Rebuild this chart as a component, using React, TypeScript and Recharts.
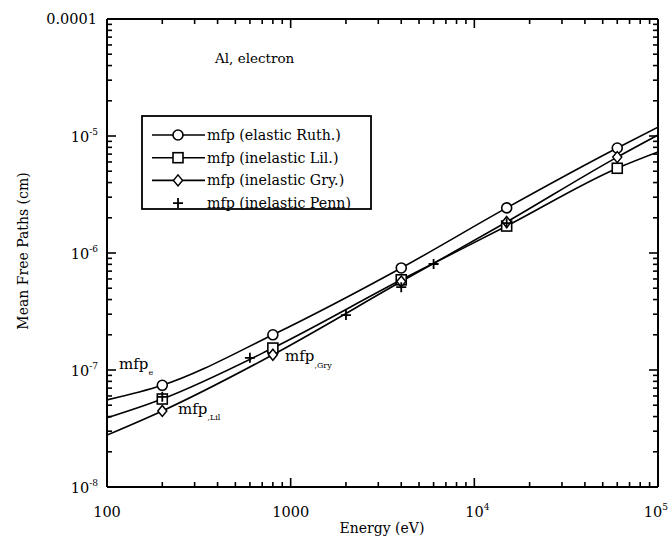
import React from 'react';
import { LineChart, Line, XAxis, YAxis } from 'recharts';

// energies (eV) and mean free paths (cm)
const lineEnergies = [100, 200, 800, 4000, 15000, 60000, 100000];
const elasticRuth = [5.55e-8, 7.4e-8, 2.0e-7, 7.45e-7, 2.43e-6, 7.9e-6, 1.19e-5];
const inelasticLil = [3.9e-8, 5.65e-8, 1.54e-7, 5.9e-7, 1.7e-6, 5.3e-6, 7.3e-6];
const inelasticGry = [2.78e-8, 4.47e-8, 1.35e-7, 5.7e-7, 1.84e-6, 6.6e-6, 1.02e-5];
const markerEnergies = [200, 800, 4000, 15000, 60000];

const pennEnergies = [200, 600, 2000, 4000, 6000, 15000];
const inelasticPenn = [5.9e-8, 1.27e-7, 2.95e-7, 5.1e-7, 8.05e-7, 1.8e-6];

const xTicks = [
  100, 200, 300, 400, 500, 600, 700, 800, 900,
  1000, 2000, 3000, 4000, 5000, 6000, 7000, 8000, 9000,
  10000, 20000, 30000, 40000, 50000, 60000, 70000, 80000, 90000, 100000,
];
const yTicks = [
  1e-8, 2e-8, 3e-8, 4e-8, 5e-8, 6e-8, 7e-8, 8e-8, 9e-8,
  1e-7, 2e-7, 3e-7, 4e-7, 5e-7, 6e-7, 7e-7, 8e-7, 9e-7,
  1e-6, 2e-6, 3e-6, 4e-6, 5e-6, 6e-6, 7e-6, 8e-6, 9e-6,
  1e-5, 2e-5, 3e-5, 4e-5, 5e-5, 6e-5, 7e-5, 8e-5, 9e-5, 1e-4,
];

const seriesNames = [
  'mfp (elastic Ruth.)',
  'mfp (inelastic Lil.)',
  'mfp (inelastic Gry.)',
  'mfp (inelastic Penn)',
];

const toRows = (xs: number[], ys: number[]) => xs.map((e, i) => ({ e, v: ys[i] }));
const ruthData = toRows(lineEnergies, elasticRuth);
const lilData = toRows(lineEnergies, inelasticLil);
const gryData = toRows(lineEnergies, inelasticGry);
const pennData = toRows(pennEnergies, inelasticPenn);

const W = 670;
const H = 543;
const FONT = '"DejaVu Serif", "Liberation Serif", serif';

const isMajor = (v: number) => Math.abs(Math.log10(v) - Math.round(Math.log10(v))) < 1e-6;

const Circle = ({ cx, cy }: { cx: number; cy: number }) => (
  <circle cx={cx} cy={cy} r={5} fill="#fff" stroke="#000" strokeWidth={1.6} />
);
const Square = ({ cx, cy }: { cx: number; cy: number }) => (
  <rect x={cx - 5} y={cy - 5} width={10} height={10} fill="#fff" stroke="#000" strokeWidth={1.6} />
);
const Diamond = ({ cx, cy }: { cx: number; cy: number }) => (
  <polygon
    points={`${cx},${cy - 5.5} ${cx + 4.5},${cy} ${cx},${cy + 5.5} ${cx - 4.5},${cy}`}
    fill="#fff"
    stroke="#000"
    strokeWidth={1.5}
  />
);
const Plus = ({ cx, cy }: { cx: number; cy: number }) => (
  <path d={`M${cx - 5},${cy}H${cx + 5}M${cx},${cy - 5}V${cy + 5}`} stroke="#000" strokeWidth={1.8} />
);

const makeDot = (Shape: React.FC<{ cx: number; cy: number }>, only?: number[]) => (props: any) => {
  const { cx, cy, payload, index } = props;
  if (cx == null || cy == null || (only && !only.includes(payload.e))) return <g key={`d-${index}`} />;
  return (
    <g key={`d-${index}`}>
      <Shape cx={cx} cy={cy} />
    </g>
  );
};

// ticks are drawn by hand so they point into the plot; the label sits outside
const BottomTick = (props: any) => {
  const { x, payload } = props;
  const y = 487;
  const v = payload.value;
  const major = isMajor(v);
  const exp = Math.round(Math.log10(v));
  // the last label would run off the right edge, so it is pulled in
  const last = exp === 5;
  return (
    <g>
      <line x1={x} x2={x} y1={y} y2={y - (major ? 9 : 5)} stroke="#000" strokeWidth={1.6} />
      {major && (
        <text
          x={last ? 668 : exp > 3 ? x + 3 : x}
          y={y + 30}
          textAnchor={last ? 'end' : 'middle'}
          fontFamily={FONT}
          fontSize={14.5}
          fill="#000"
        >
          {exp <= 3 ? String(v) : '10'}
          {exp > 3 && (
            <tspan dy={-7} fontSize={9}>
              {exp}
            </tspan>
          )}
        </text>
      )}
    </g>
  );
};

const TopTick = (props: any) => {
  const { x, payload } = props;
  const y = 19;
  const major = isMajor(payload.value);
  return <line x1={x} x2={x} y1={y} y2={y + (major ? 9 : 5)} stroke="#000" strokeWidth={1.6} />;
};

const LeftTick = (props: any) => {
  const { y, payload } = props;
  const x = 107;
  const v = payload.value;
  const major = isMajor(v);
  const exp = Math.round(Math.log10(v));
  return (
    <g>
      <line x1={x} x2={x + (major ? 9 : 5)} y1={y} y2={y} stroke="#000" strokeWidth={1.6} />
      {major &&
        (exp === -4 ? (
          <text x={x - 10} y={y + 5} textAnchor="end" fontFamily={FONT} fontSize={14.5} fill="#000">
            0.0001
          </text>
        ) : (
          <text x={x - 9} y={y + 6} textAnchor="end" fontFamily={FONT} fontSize={14.5} fill="#000">
            10
            <tspan dy={-7} fontSize={9}>
              {exp}
            </tspan>
          </text>
        ))}
    </g>
  );
};

const RightTick = (props: any) => {
  const { y, payload } = props;
  const x = 658;
  const major = isMajor(payload.value);
  return <line x1={x} x2={x - (major ? 9 : 5)} y1={y} y2={y} stroke="#000" strokeWidth={1.6} />;
};

const legendShapes = [Circle, Square, Diamond, Plus];

const Overlay = () => (
  <svg
    width={W}
    height={H}
    style={{ position: 'absolute', left: 0, top: 0, pointerEvents: 'none', overflow: 'visible' }}
  >
    <g fontFamily={FONT} fill="#000">
      <rect x={142} y={116} width={229} height={93} fill="#fff" stroke="#000" strokeWidth={1.8} />
      {seriesNames.map((name, i) => {
        const y = 135 + i * 22.7;
        const Shape = legendShapes[i];
        return (
          <g key={name}>
            {i < 3 && <line x1={152} x2={205} y1={y} y2={y} stroke="#000" strokeWidth={1.6} />}
            <Shape cx={178} cy={y} />
            <text x={207} y={y + 5} fontSize={14.2}>
              {name}
            </text>
          </g>
        );
      })}
      <text x={215} y={63} fontSize={13.5}>
        Al, electron
      </text>
      <text x={119} y={369} fontSize={15}>
        mfp
        <tspan dy={6} fontSize={8}>
          e
        </tspan>
      </text>
      <text x={178} y={414} fontSize={15}>
        mfp
        <tspan dy={6} fontSize={8}>
          ,Lil
        </tspan>
      </text>
      <text x={285} y={361} fontSize={15}>
        mfp
        <tspan dy={7} fontSize={8}>
          ,Gry
        </tspan>
      </text>
      <text x={382} y={533} textAnchor="middle" fontSize={14}>
        Energy (eV)
      </text>
      <text x={28} y={251} textAnchor="middle" fontSize={14} transform="rotate(-90 28 251)">
        Mean Free Paths (cm)
      </text>
    </g>
  </svg>
);

export default function App() {
  return (
    <div style={{ position: 'absolute', left: 0, top: 0, width: W, height: H, background: '#fff' }}>
      <LineChart width={W} height={H} margin={{ top: 9, right: 2, left: 57, bottom: 6 }}>
        <XAxis
          xAxisId="b"
          dataKey="e"
          type="number"
          scale="log"
          domain={[100, 100000]}
          allowDataOverflow
          ticks={xTicks}
          interval={0}
          height={50}
          tickLine={false}
          tick={<BottomTick />}
          axisLine={{ stroke: '#000', strokeWidth: 2 }}
        />
        <XAxis
          xAxisId="t"
          orientation="top"
          dataKey="e"
          type="number"
          scale="log"
          domain={[100, 100000]}
          allowDataOverflow
          ticks={xTicks}
          interval={0}
          height={10}
          tickLine={false}
          tick={<TopTick />}
          axisLine={{ stroke: '#000', strokeWidth: 2 }}
        />
        <YAxis
          yAxisId="l"
          dataKey="v"
          type="number"
          scale="log"
          domain={[1e-8, 1e-4]}
          allowDataOverflow
          ticks={yTicks}
          interval={0}
          width={50}
          tickLine={false}
          tick={<LeftTick />}
          axisLine={{ stroke: '#000', strokeWidth: 2 }}
        />
        <YAxis
          yAxisId="r"
          orientation="right"
          dataKey="v"
          type="number"
          scale="log"
          domain={[1e-8, 1e-4]}
          allowDataOverflow
          ticks={yTicks}
          interval={0}
          width={10}
          tickLine={false}
          tick={<RightTick />}
          axisLine={{ stroke: '#000', strokeWidth: 2 }}
        />
        <Line
          xAxisId="b"
          yAxisId="l"
          data={ruthData}
          dataKey="v"
          type="monotone"
          stroke="#000"
          strokeWidth={1.6}
          dot={makeDot(Circle, markerEnergies)}
          activeDot={false}
          isAnimationActive={false}
        />
        <Line
          xAxisId="b"
          yAxisId="l"
          data={lilData}
          dataKey="v"
          type="monotone"
          stroke="#000"
          strokeWidth={1.6}
          dot={makeDot(Square, markerEnergies)}
          activeDot={false}
          isAnimationActive={false}
        />
        <Line
          xAxisId="b"
          yAxisId="l"
          data={gryData}
          dataKey="v"
          type="monotone"
          stroke="#000"
          strokeWidth={1.6}
          dot={makeDot(Diamond, markerEnergies)}
          activeDot={false}
          isAnimationActive={false}
        />
        <Line
          xAxisId="b"
          yAxisId="l"
          data={pennData}
          dataKey="v"
          stroke="none"
          dot={makeDot(Plus)}
          activeDot={false}
          isAnimationActive={false}
        />
      </LineChart>
      <Overlay />
    </div>
  );
}
